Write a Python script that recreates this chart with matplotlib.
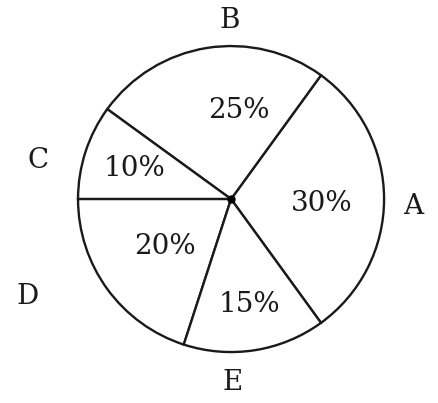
import matplotlib.pyplot as plt
from matplotlib import rcParams
rcParams['font.family'] = 'serif'
rcParams['font.serif'] = ['DejaVu Serif']

# slice names and shares (percent)
names = ['A', 'B', 'C', 'D', 'E']
shares = [30, 25, 10, 20, 15]

# where the text sits (data units, radius = 1)
name_pos = [(1.19, -0.05), (-0.01, 1.17), (-1.26, 0.25), (-1.33, -0.64), (0.01, -1.20)]
pct_pos = [(0.59, -0.03), (0.05, 0.58), (-0.63, 0.20), (-0.43, -0.31), (0.12, -0.69)]

ink = '#1a1a1a'
center = (0, 0)

fig = plt.figure(figsize=(4.39, 4.03), dpi=100)
ax = fig.add_axes([0, 0, 1, 1])

wedges, texts, autotexts = ax.pie(
    shares, labels=names, startangle=-54, counterclock=True,
    center=center, radius=1,
    colors=['white'] * len(shares),
    wedgeprops=dict(edgecolor=ink, linewidth=1.7),
    autopct='%d%%', textprops=dict(color=ink, fontsize=20),
)

for t, p in zip(texts, name_pos):
    t.set_position(p)
    t.set_ha('center')
    t.set_va('center')
for t, p in zip(autotexts, pct_pos):
    t.set_position(p)
    t.set_ha('center')
    t.set_va('center')

# the dot in the middle
ax.plot(*center, 'o', color='black', markersize=5)

ax.set_xlim(-1.510, 1.359)
ax.set_ylim(-1.333, 1.301)
ax.set_aspect('auto')
ax.axis('off')

plt.savefig('out.png', dpi=100)
